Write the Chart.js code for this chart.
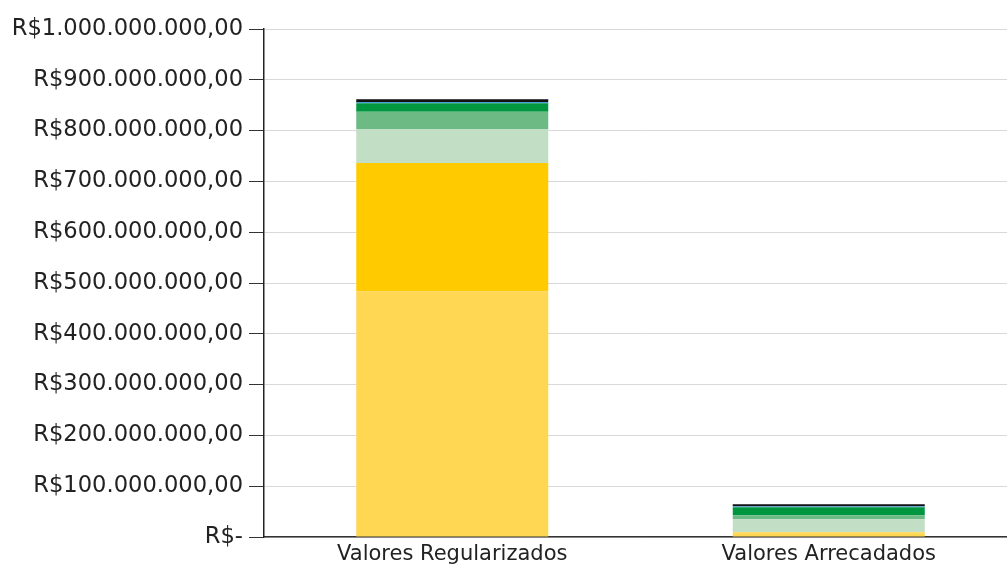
<!DOCTYPE html>
<html lang="pt-BR">
<head>
<meta charset="utf-8">
<script src="https://cdn.jsdelivr.net/npm/chart.js@4/dist/chart.umd.min.js"></script>
<style>
  html, body { margin: 0; padding: 0; background: #fff; overflow: hidden; }
  #wrap { width: 1007px; height: 564px; overflow: hidden; position: relative; }
  canvas { display: block; }
</style>
</head>
<body>
<div id="wrap"><canvas id="c" width="1017" height="564"></canvas></div>
<script>
// Categorias do eixo X
const categorias = ['Valores Regularizados', 'Valores Arrecadados'];

// Parcelas empilhadas (R$), de baixo para cima
const parcela1 = [484000000, 9300000];
const parcela2 = [252000000, 0];
const parcela3 = [67000000, 25600000];
const parcela4 = [34000000, 8000000];
const parcela5 = [16600000, 15700000];
const parcela6 = [2600000, 2000000];
const parcela7 = [5400000, 4000000];

const coresParcelas = ['#FFD752', '#FFCA00', '#C2DFC5', '#6DBA84', '#009640', '#4A9FD8', '#111111'];
const nomesParcelas = ['Parcela 1', 'Parcela 2', 'Parcela 3', 'Parcela 4', 'Parcela 5', 'Parcela 6', 'Parcela 7'];
const series = [parcela1, parcela2, parcela3, parcela4, parcela5, parcela6, parcela7];

// Marcas do eixo Y
const yMin = 0;
const yMax = 1000000000;
const yPasso = 100000000;

function formatoReal(v) {
  if (v === 0) return 'R$-';
  const inteiro = Math.round(v).toString().replace(/\B(?=(\d{3})+(?!\d))/g, '.');
  return 'R$' + inteiro + ',00';
}

new Chart(document.getElementById('c'), {
  type: 'bar',
  data: {
    labels: categorias,
    datasets: series.map((s, i) => ({
      label: nomesParcelas[i],
      data: s,
      backgroundColor: coresParcelas[i],
      borderWidth: 0,
      categoryPercentage: 1,
      barPercentage: 0.51
    }))
  },
  options: {
    responsive: false,
    animation: false,
    layout: { padding: { top: 29, right: 0, left: 0, bottom: 0 } },
    plugins: { legend: { display: false }, tooltip: { enabled: false } },
    scales: {
      x: {
        stacked: true,
        grid: { display: false, drawTicks: false },
        border: { display: true, color: '#333333', width: 1.5 },
        ticks: { color: '#222222', font: { family: 'DejaVu Sans', size: 21 }, padding: 5, maxRotation: 0 },
        afterFit: (s) => { s.height = 27; }
      },
      y: {
        stacked: true,
        min: yMin,
        max: yMax,
        grid: { color: '#d9d9d9', lineWidth: 1, tickColor: '#333333', tickLength: 15 },
        border: { display: true, color: '#222222', width: 1.5 },
        ticks: {
          stepSize: yPasso,
          color: '#222222',
          font: { family: 'DejaVu Sans', size: 22.6 },
          padding: 6,
          callback: (v) => formatoReal(v)
        },
        afterFit: (s) => { s.width = 264; }
      }
    }
  }
});
</script>
</body>
</html>
